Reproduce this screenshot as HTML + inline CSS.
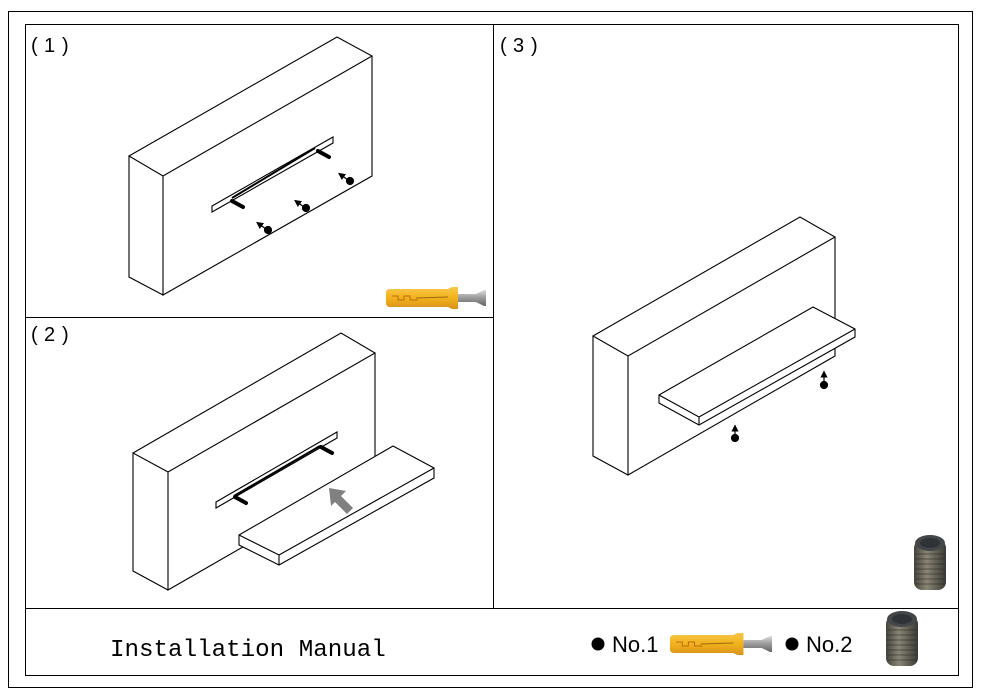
<!DOCTYPE html>
<html><head><meta charset="utf-8"><style>
html,body{margin:0;padding:0;background:#fff;}
svg{display:block;}
</style></head><body>
<svg width="981" height="697" viewBox="0 0 981 697" xmlns="http://www.w3.org/2000/svg">
<defs>
<marker id="ah" markerWidth="6" markerHeight="6" refX="3" refY="3" orient="auto"><path d="M0,0L6,3L0,6z" fill="#000"/></marker>
<linearGradient id="ye" x1="0" y1="0" x2="0" y2="1"><stop offset="0" stop-color="#f7c84a"/><stop offset="0.5" stop-color="#f2b21c"/><stop offset="1" stop-color="#d8921a"/></linearGradient>
<linearGradient id="mt" x1="0" y1="0" x2="0" y2="1"><stop offset="0" stop-color="#ddd"/><stop offset="0.5" stop-color="#999"/><stop offset="1" stop-color="#666"/></linearGradient>
<linearGradient id="gs" x1="0" y1="0" x2="1" y2="0"><stop offset="0" stop-color="#45443c"/><stop offset="0.4" stop-color="#8a8674"/><stop offset="1" stop-color="#3a3934"/></linearGradient>
<g id="anchor">
<path d="M0,6 Q0,2 4,2 L62,2 L66,0 L72,0 L72,22 L66,22 L62,20 L4,20 Q0,20 0,16 Z" fill="url(#ye)"/>
<path d="M6,9 h6 v4 h6 v-4 h6 v4 h8" stroke="#c06a10" fill="none" stroke-width="1"/>
<line x1="30" y1="11" x2="62" y2="10" stroke="#9a6a10" stroke-width="1"/>
<path d="M72,7 L90,7 L98,3 L100,3 L100,19 L98,19 L90,15 L72,15 Z" fill="url(#mt)"/>
</g>
<g id="grub">
<rect x="0" y="6" width="32" height="50" rx="8" fill="url(#gs)"/>
<ellipse cx="16" cy="9" rx="15" ry="8" fill="#44474a"/>
<ellipse cx="16" cy="9" rx="10" ry="5" fill="#2f3236"/>
<g stroke="#222" stroke-width="1" opacity="0.5">
<line x1="1" y1="20" x2="31" y2="20"/><line x1="1" y1="25" x2="31" y2="25"/><line x1="1" y1="30" x2="31" y2="30"/><line x1="1" y1="35" x2="31" y2="35"/><line x1="1" y1="40" x2="31" y2="40"/><line x1="1" y1="45" x2="31" y2="45"/><line x1="1" y1="50" x2="31" y2="50"/>
</g>
</g>
</defs>
<rect x="8.5" y="11.5" width="964" height="676" fill="none" stroke="#000" stroke-width="1"/>
<rect x="25.5" y="24.5" width="933" height="651" fill="none" stroke="#000" stroke-width="1"/>
<line x1="493.5" y1="24" x2="493.5" y2="608" stroke="#000"/>
<line x1="25" y1="317.5" x2="493" y2="317.5" stroke="#000"/>
<line x1="25" y1="608.5" x2="958" y2="608.5" stroke="#000"/>
<g font-family="Liberation Sans, sans-serif" font-size="20" fill="#000">
<text x="31" y="52">(</text><text x="44" y="52">1</text><text x="62" y="52">)</text>
<text x="31" y="341">(</text><text x="44" y="341">2</text><text x="62" y="341">)</text>
<text x="500" y="52">(</text><text x="513" y="52">3</text><text x="531" y="52">)</text>
</g>
<g fill="none" stroke="#000" stroke-width="1.1">
<!-- panel1 box -->
<path d="M129,156 L337,37 L372,56 L163,176 Z M163,176 L163,295 L372,176 L372,56 M129,156 L129,277 L163,295"/>
<path d="M212,206 L333,137 L333,143 L212,212 Z"/>
<line x1="232" y1="198" x2="315" y2="148" stroke-width="2"/>
<!-- panel2 box -->
<path d="M133,453 L341,333 L375,353 L168,472 Z M168,472 L168,590 L375,471 M133,453 L133,571 L168,590 M375,353 L375,471"/>
<path d="M216,502 L337,432 L337,438 L216,508 Z"/>
<line x1="234" y1="496" x2="320" y2="446" stroke-width="2"/>
<path d="M239,535 L393,446 L434,468 L434,478 L279,565 L239,545 Z" fill="#fff"/>
<path d="M239,535 L279,555 L434,468 M279,555 L279,565"/>
<!-- panel3 box -->
<path d="M593,336 L800,217 L835,237 L628,356 Z M628,356 L628,475 L835,356 L835,237 M593,336 L593,456 L628,475"/>
<path d="M659,395 L813,307 L855,329 L855,337 L699,425 L659,403 Z" fill="#fff"/>
<path d="M659,395 L699,417 L855,329 M699,417 L699,425"/>
</g>
<!-- pins -->
<g stroke="#000" stroke-width="4" stroke-linecap="round">
<line x1="232" y1="201" x2="243" y2="207"/><line x1="318" y1="151" x2="329" y2="157"/>
<line x1="235" y1="497" x2="246" y2="503"/><line x1="321" y1="447" x2="332" y2="453"/>
</g>
<!-- dots with arrows -->
<g fill="#000" stroke="#000" stroke-width="1.2">
<circle cx="268" cy="230" r="3.5"/><line x1="266" y1="229" x2="259" y2="224" marker-end="url(#ah)"/>
<circle cx="306" cy="208" r="3.5"/><line x1="304" y1="207" x2="297" y2="202" marker-end="url(#ah)"/>
<circle cx="350" cy="181" r="3.5"/><line x1="348" y1="180" x2="341" y2="175" marker-end="url(#ah)"/>
<circle cx="735" cy="438" r="3.5"/><line x1="735" y1="435" x2="735" y2="428" marker-end="url(#ah)"/>
<circle cx="824" cy="385" r="3.5"/><line x1="824" y1="382" x2="824" y2="374" marker-end="url(#ah)"/>
</g>
<!-- grey arrow -->
<path d="M329,488 L346,491 L341,496 L353,508 L347,514 L335,502 L331,506 Z" fill="#808080"/>
<use href="#anchor" transform="translate(386,287)"/>
<use href="#grub" transform="translate(914,534)"/>
<text x="110" y="656" font-family="Liberation Mono, monospace" font-size="24.2" fill="#000">Installation Manual</text>
<circle cx="598" cy="644" r="6.5" fill="#000"/>
<text x="612" y="652" font-family="Liberation Sans, sans-serif" font-size="22">No.1</text>
<use href="#anchor" transform="translate(670,633) scale(1.02,1)"/>
<circle cx="792" cy="644" r="6.5" fill="#000"/>
<text x="806" y="652" font-family="Liberation Sans, sans-serif" font-size="22">No.2</text>
<use href="#grub" transform="translate(886,610)"/>
</svg>
</body></html>
